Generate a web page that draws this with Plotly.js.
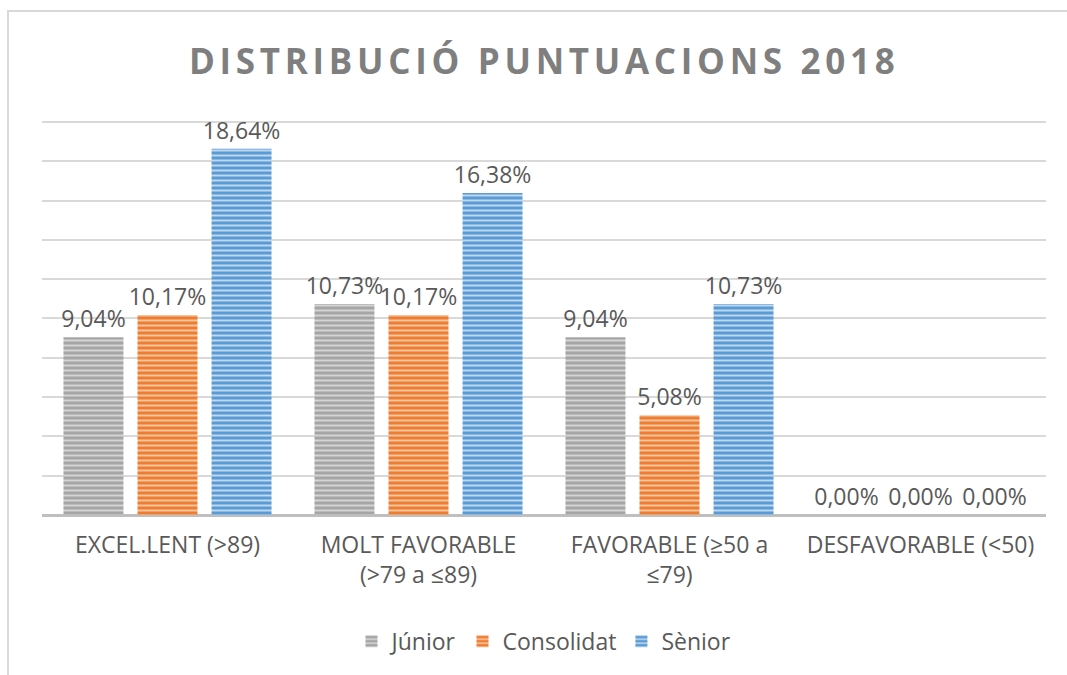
<!DOCTYPE html>
<html>
<head>
<meta charset="utf-8">
<script src="https://cdn.plot.ly/plotly-3.0.1.min.js"></script>
<style>
html,body{margin:0;padding:0;background:#fff;}
#frame{position:absolute;left:7px;top:10px;width:1070px;height:680px;border-top:2px solid #d9d9d9;border-left:2px solid #d9d9d9;pointer-events:none;z-index:5;}
#chart{width:1067px;height:675px;}
.gtitle{letter-spacing:4.7px;}
</style>
</head>
<body>
<div id="frame"></div>
<div id="chart"></div>
<script>
const categories = ["EXCEL.LENT (>89)", "MOLT FAVORABLE<br>(>79 a ≤89)", "FAVORABLE (≥50 a<br>≤79)", "DESFAVORABLE (<50)"];
const junior = [9.04, 10.73, 9.04, 0.00];
const consolidat = [10.17, 10.17, 5.08, 0.00];
const senior = [18.64, 16.38, 10.73, 0.00];
const seriesNames = ["Júnior", "Consolidat", "Sènior"];
const yTicks = [0, 2, 4, 6, 8, 10, 12, 14, 16, 18, 20];

const colors = [
  {bg: "#a5a5a5", fg: "#d4d4d4"},
  {bg: "#ed7d31", fg: "#f7c4a0"},
  {bg: "#5b9bd5", fg: "#bdd7ee"}
];
const allValues = [junior, consolidat, senior];

const traces = allValues.map((vals, i) => ({
  type: "bar",
  name: seriesNames[i],
  x: categories,
  y: vals,
  texttemplate: "%{y:.2f}%",
  textposition: "outside",
  constraintext: "none",
  cliponaxis: false,
  textfont: {family: "Open Sans, sans-serif", size: 23, color: "#595959"},
  marker: {
    color: colors[i].bg,
    line: {width: 0},
    pattern: {shape: "-", bgcolor: colors[i].bg, fgcolor: colors[i].fg, size: 5, solidity: 0.4, fillmode: "replace"}
  },
  hoverinfo: "none"
}));

const layout = {
  width: 1067,
  height: 675,
  paper_bgcolor: "#ffffff",
  plot_bgcolor: "#ffffff",
  separators: ",.",
  margin: {l: 42, r: 21, t: 118, b: 160},
  title: {
    text: "<b>DISTRIBUCIÓ PUNTUACIONS 2018</b>",
    x: 0.51, xanchor: "center",
    y: 0.908, yanchor: "middle",
    font: {family: "Open Sans, sans-serif", size: 35, color: "#7f7f7f"}
  },
  barmode: "group",
  bargap: 0.115,
  bargroupgap: 0.19,
  xaxis: {
    tickmode: "array",
    tickvals: categories,
    ticktext: categories,
    ticks: "",
    ticklabelstandoff: 14,
    tickfont: {family: "Open Sans, sans-serif", size: 23, color: "#595959"},
    showline: false,
    showgrid: false,
    zeroline: false,
    fixedrange: true
  },
  yaxis: {
    range: [0, 20.2],
    tickvals: yTicks,
    showticklabels: false,
    showgrid: true,
    gridcolor: "#d9d9d9",
    gridwidth: 2,
    zeroline: true,
    zerolinecolor: "#bfbfbf",
    zerolinewidth: 3,
    showline: false,
    fixedrange: true
  },
  showlegend: true,
  legend: {
    orientation: "h",
    x: 0.5, xanchor: "center",
    y: -0.318, yanchor: "middle",
    font: {family: "Open Sans, sans-serif", size: 23, color: "#595959"},
    itemwidth: 30,
    traceorder: "normal"
  }
};

Plotly.newPlot("chart", traces, layout, {staticPlot: true, displayModeBar: false});
</script>
</body>
</html>
